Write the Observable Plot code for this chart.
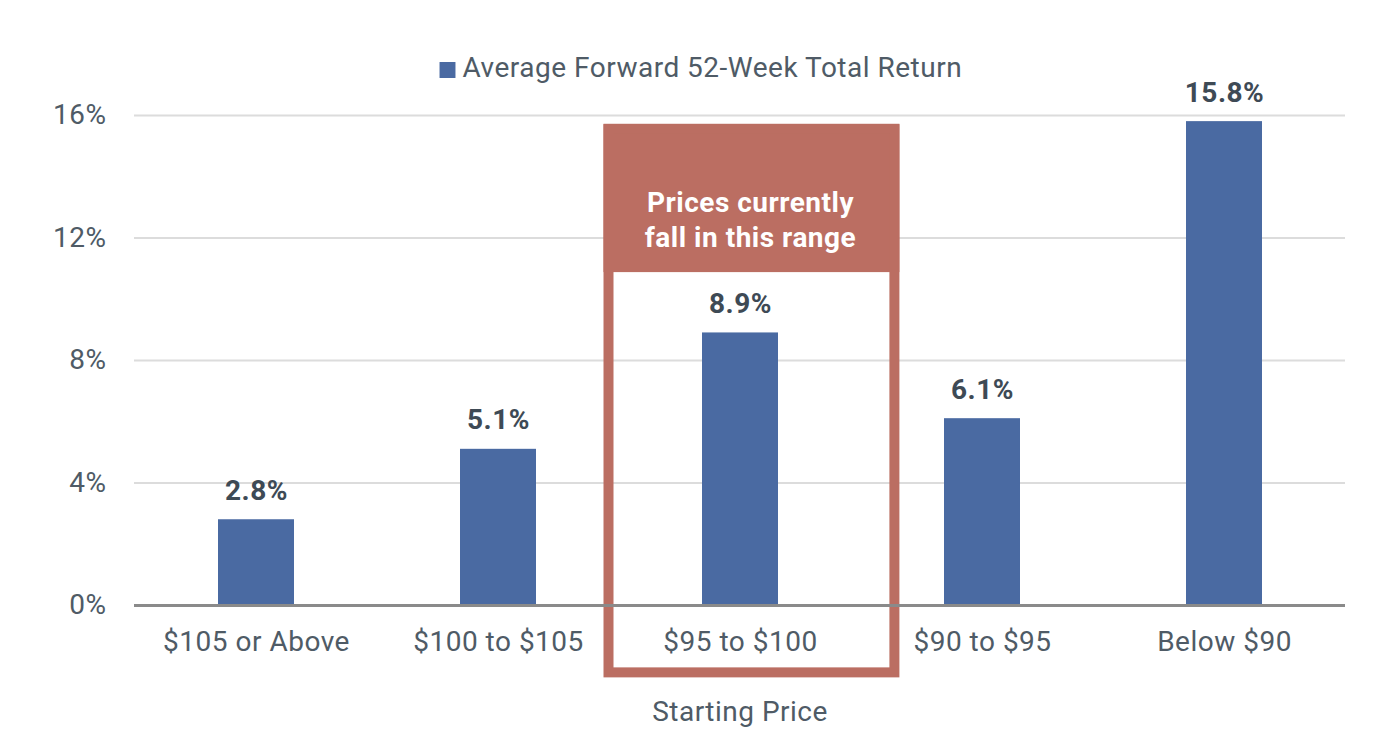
<!DOCTYPE html>
<html>
<head>
<meta charset="utf-8">
<script src="https://cdn.jsdelivr.net/npm/d3@7"></script>
<script src="https://cdn.jsdelivr.net/npm/@observablehq/plot@0.6"></script>
<style>
  html, body { margin: 0; padding: 0; background: #fff; }
  #chart svg { display: block; }
  #chart svg text { letter-spacing: 0.5px; }
</style>
</head>
<body>
<div id="chart"></div>
<script>
const categories = ["$105 or Above", "$100 to $105", "$95 to $100", "$90 to $95", "Below $90"];
const values = [2.8, 5.1, 8.9, 6.1, 15.8];
const yTicks = [0, 4, 8, 12, 16];
const seriesName = "Average Forward 52-Week Total Return";
const xTitle = "Starting Price";
const highlightCategory = "$95 to $100";
const highlightText = "Prices currently\nfall in this range";
// highlight box extents in data units (%)
const highlightTop = 15.55;
const highlightBottom = -2.2;
const headerTop = 15.7;
const headerBottom = 10.87;
const headerTextY = 12.65;

const data = categories.map((c, i) => ({category: c, value: values[i]}));
const highlight = [{category: highlightCategory, top: highlightTop, bottom: highlightBottom, hTop: headerTop, hBottom: headerBottom, ty: headerTextY}];

const BLUE = "#4a6aa2";
const RED = "#bb6e62";
const TEXT = "#4f5b66";
const LABEL = "#3e4a55";

const chart = Plot.plot({
  width: 1388,
  height: 752,
  marginLeft: 134,
  marginRight: 43,
  marginTop: 115,
  marginBottom: 147,
  style: {fontFamily: "Roboto, 'Open Sans', sans-serif", fontSize: "28px", color: TEXT, background: "#fff"},
  x: {domain: categories, paddingInner: 0.686, paddingOuter: 0.343, label: null},
  y: {domain: [0, 16], label: null},
  marks: [
    Plot.gridY(yTicks.filter(d => d > 0), {stroke: "#dcdcdc", strokeOpacity: 1, strokeWidth: 2}),
    Plot.rect(highlight, {x: "category", y1: "hBottom", y2: "hTop", fill: RED, insetLeft: -98.5, insetRight: -121.4}),
    Plot.rect(highlight, {x: "category", y1: "bottom", y2: "top", fill: "none", stroke: RED, strokeWidth: 10, insetLeft: -93.5, insetRight: -116.4}),
    Plot.text(highlight, {x: "category", y: "ty", text: () => highlightText, dx: 10, fill: "#fff", fontWeight: "bold", fontSize: 28, lineHeight: 1.25}),
    Plot.barY(data, {x: "category", y: "value", fill: BLUE}),
    Plot.ruleY([0], {stroke: "#8a8a8a", strokeWidth: 3}),
    Plot.text(data, {x: "category", y: "value", text: d => d.value.toFixed(1) + "%", dy: -29, fill: LABEL, fontWeight: "bold", fontSize: 28}),
    Plot.axisY({ticks: yTicks, tickFormat: d => d + "%", tickSize: 0, tickPadding: 28, label: null, fill: TEXT, fontSize: 28}),
    Plot.axisX({tickSize: 0, tickPadding: 26, label: null, fill: TEXT, fontSize: 28}),
    Plot.text([xTitle], {frameAnchor: "bottom", lineAnchor: "middle", dy: 107, fill: TEXT, fontSize: 28}),
    Plot.dot([seriesName], {frameAnchor: "top", dx: -292.5, dy: -45.5, symbol: "square", r: 9, fill: BLUE}),
    Plot.text([seriesName], {frameAnchor: "top", lineAnchor: "middle", dx: -277.5, dy: -47, textAnchor: "start", fill: TEXT, fontSize: 28})
  ]
});
document.getElementById("chart").append(chart);
</script>
</body>
</html>
